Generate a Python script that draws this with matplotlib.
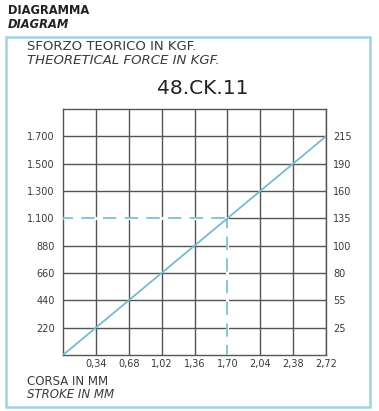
import matplotlib
matplotlib.use("Agg")
import matplotlib.pyplot as plt
from matplotlib.patches import Rectangle

# data
stroke_mm = [0.34, 0.68, 1.02, 1.36, 1.70, 2.04, 2.38, 2.72]
stroke_labels = ["0,34", "0,68", "1,02", "1,36", "1,70", "2,04", "2,38", "2,72"]
force_kgf = [220, 440, 660, 880, 1100, 1300, 1500, 1700]
force_kgf_labels = ["220", "440", "660", "880", "1.100", "1.300", "1.500", "1.700"]
force_right_labels = ["25", "55", "80", "100", "135", "160", "190", "215"]
marked_stroke = 1.70
marked_force = 1100

W, H = 379, 411
fig = plt.figure(figsize=(W / 100, H / 100), dpi=100)
fig.patch.set_facecolor("white")

def px(x, y):
    return x / W, 1 - y / H

txt = "#3a3a3a"
grid_c = "#555555"
blue = "#72bcd0"

# outer frame
fig.add_artist(Rectangle(px(6, 407), 364 / W, 370 / H, transform=fig.transFigure,
                         fill=False, edgecolor="#9fd3e2", linewidth=1.8))

fig.text(*px(8, 11), "DIAGRAMMA", fontsize=8.3, fontweight="bold", color="#222222", va="center")
fig.text(*px(8, 24), "DIAGRAM", fontsize=8.3, fontweight="bold", style="italic", color="#222222", va="center")
fig.text(*px(27, 47), "SFORZO TEORICO IN KGF.", fontsize=9.5, color=txt, va="center")
fig.text(*px(27, 60), "THEORETICAL FORCE IN KGF.", fontsize=9.5, style="italic", color=txt, va="center")
fig.text(*px(203, 88), "48.CK.11", fontsize=14.5, color="#222222", ha="center", va="center")
fig.text(*px(27, 381), "CORSA IN MM", fontsize=8.5, color=txt, va="center")
fig.text(*px(27, 394), "STROKE IN MM", fontsize=8.5, style="italic", color=txt, va="center")

ax = fig.add_axes([63 / W, (H - 355) / H, 263 / W, 246 / H])
ypos = list(range(1, len(force_kgf) + 1))
ax.set_xlim(0, stroke_mm[-1])
ax.set_ylim(0, len(force_kgf) + 1)

ax.set_xticks(stroke_mm)
ax.set_xticklabels(stroke_labels)
ax.set_yticks(ypos)
ax.set_yticklabels(force_kgf_labels)
ax.tick_params(length=0, labelsize=7, colors=txt)
ax.tick_params(axis="x", pad=3)
ax.tick_params(axis="y", pad=6)
ax.grid(True, color=grid_c, linewidth=1.0)
for s in ax.spines.values():
    s.set_color(grid_c)
    s.set_linewidth(1.0)

ax2 = ax.twinx()
ax2.set_ylim(ax.get_ylim())
ax2.set_yticks(ypos)
ax2.set_yticklabels(force_right_labels)
ax2.tick_params(length=0, labelsize=7, colors=txt, pad=5)
for s in ax2.spines.values():
    s.set_visible(False)

# characteristic line: force vs stroke
ax.plot([0] + stroke_mm, [0] + ypos, color=blue, linewidth=1.3, zorder=5)

# dashed read-off lines replace the grid lines up to the marked point
my = ypos[force_kgf.index(marked_force)]
for xs, ys in (([0, marked_stroke], [my, my]), ([marked_stroke, marked_stroke], [0, my])):
    ax.plot(xs, ys, color="white", linewidth=2.2, zorder=4, solid_capstyle="butt")
    ax.plot(xs, ys, color=blue, linewidth=1.2, linestyle=(2, (8, 5)), zorder=5)

fig.savefig("out.png", dpi=100)
